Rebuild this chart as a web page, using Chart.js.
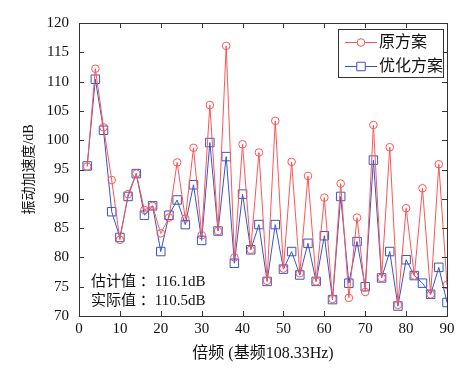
<!DOCTYPE html>
<html>
<head>
<meta charset="utf-8">
<script src="https://cdn.jsdelivr.net/npm/chart.js@4.4.1/dist/chart.umd.min.js"></script>
<style>
  html, body { margin: 0; padding: 0; background: #ffffff; }
  #wrap { width: 474px; height: 369px; position: relative; }
</style>
</head>
<body>
<div id="wrap"><canvas id="c" width="474" height="369"></canvas></div>
<script>
// ---- data ----
const harmonics = [2,4,6,8,10,12,14,16,18,20,22,24,26,28,30,32,34,36,38,40,42,44,46,48,50,52,54,56,58,60,62,64,66,68,70,72,74,76,78,80,82,84,86,88,90];
const originalValues = [95.5,112.2,102.2,93.2,83.0,90.8,94.3,88.1,88.8,84.1,86.8,96.2,86.6,98.7,83.8,106.0,84.5,116.1,80.0,99.3,81.3,97.9,76.0,103.3,78.1,96.3,77.3,93.9,75.9,90.2,72.9,92.6,73.1,86.8,74.1,102.6,76.5,98.8,71.9,88.4,76.9,91.8,73.7,95.9,75.3];
const optimizedValues = [95.6,110.4,101.7,87.8,83.4,90.4,94.3,87.2,88.8,81.0,87.2,89.8,85.6,92.4,82.9,99.6,84.5,97.2,79.0,90.8,81.3,85.6,75.9,85.6,78.0,81.0,77.0,82.4,75.9,83.7,72.8,90.4,75.6,82.7,75.0,96.6,76.5,81.0,71.7,79.6,76.9,75.6,73.7,78.3,72.3];
const seriesNames = ["原方案", "优化方案"];
const xTicks = [0,10,20,30,40,50,60,70,80,90];
const yTicks = [70,75,80,85,90,95,100,105,110,115,120];
const xTitle = "倍频 (基频108.33Hz)";
const yTitle = "振动加速度/dB";
const noteLines = ["估计值 ：116.1dB", "实际值 ：110.5dB"];

const FONT = "'Liberation Serif', 'Noto Sans CJK SC', serif";
const RED = "rgb(255,85,85)";
const BLUE = "rgb(55,85,200)";
const AXIS = "#333333";

const toPts = (vals) => vals.map((v, i) => ({ x: harmonics[i], y: v }));

// frame + inward ticks on all four sides
const framePlugin = {
  id: 'frame',
  afterDraw(chart) {
    const { ctx, chartArea: a, scales } = chart;
    ctx.save();
    ctx.strokeStyle = AXIS;
    ctx.lineWidth = 1;
    ctx.strokeRect(Math.round(a.left) + 0.5, Math.round(a.top) + 0.5, Math.round(a.right - a.left), Math.round(a.bottom - a.top));
    const L = 5;
    ctx.beginPath();
    scales.x.ticks.forEach(t => {
      const px = Math.round(scales.x.getPixelForValue(t.value)) + 0.5;
      ctx.moveTo(px, a.bottom); ctx.lineTo(px, a.bottom - L);
      ctx.moveTo(px, a.top); ctx.lineTo(px, a.top + L);
    });
    scales.y.ticks.forEach(t => {
      const py = Math.round(scales.y.getPixelForValue(t.value)) + 0.5;
      ctx.moveTo(a.left, py); ctx.lineTo(a.left + L, py);
      ctx.moveTo(a.right, py); ctx.lineTo(a.right - L, py);
    });
    ctx.stroke();
    ctx.restore();
  }
};

// MATLAB-style legend box and annotation text
const legendPlugin = {
  id: 'boxLegend',
  afterDraw(chart) {
    const { ctx } = chart;
    const bx = 338.5, by = 29.5, bw = 105, bh = 48;
    ctx.save();
    ctx.fillStyle = '#ffffff';
    ctx.fillRect(bx, by, bw, bh);
    ctx.strokeStyle = AXIS;
    ctx.lineWidth = 1;
    ctx.strokeRect(bx, by, bw, bh);
    const rows = [42, 66];
    chart.data.datasets.forEach((ds, i) => {
      const y = rows[i];
      ctx.strokeStyle = ds.borderColor;
      ctx.lineWidth = 1;
      ctx.beginPath();
      ctx.moveTo(345, y + 0.5); ctx.lineTo(377, y + 0.5);
      ctx.stroke();
      ctx.fillStyle = '#ffffff';
      ctx.strokeStyle = ds.borderColor;
      Chart.helpers.drawPoint(ctx, {
        pointStyle: ds.pointStyle, radius: ds.pointRadius, borderWidth: 1, rotation: 0
      }, 361, y + 0.5);
      ctx.fillStyle = '#111111';
      ctx.font = "16px " + FONT;
      ctx.textAlign = 'left';
      ctx.textBaseline = 'middle';
      ctx.fillText(ds.label, 379, y + 1);
    });
    ctx.fillStyle = '#111111';
    ctx.font = "15px " + FONT;
    ctx.textAlign = 'left';
    ctx.textBaseline = 'middle';
    noteLines.forEach((t, i) => ctx.fillText(t, 91, 282 + i * 19));
    ctx.restore();
  }
};

new Chart(document.getElementById('c'), {
  type: 'line',
  data: {
    datasets: [
      {
        label: seriesNames[0],
        data: toPts(originalValues),
        borderColor: RED,
        backgroundColor: 'rgba(0,0,0,0)',
        borderWidth: 1,
        pointStyle: 'circle',
        pointRadius: 3.8,
        pointBorderColor: RED,
        pointBackgroundColor: 'rgba(0,0,0,0)',
        pointBorderWidth: 1,
        tension: 0
      },
      {
        label: seriesNames[1],
        data: toPts(optimizedValues),
        borderColor: BLUE,
        backgroundColor: 'rgba(0,0,0,0)',
        borderWidth: 1,
        pointStyle: 'rect',
        pointRadius: 6,
        pointBorderColor: BLUE,
        pointBackgroundColor: 'rgba(0,0,0,0)',
        pointBorderWidth: 1,
        tension: 0
      }
    ]
  },
  options: {
    responsive: false,
    animation: false,
    devicePixelRatio: 1,
    layout: { padding: { left: 0, right: 27, top: 23, bottom: 0 } },
    plugins: {
      legend: { display: false },
      tooltip: { enabled: false }
    },
    scales: {
      x: {
        type: 'linear',
        min: 0, max: 90,
        afterBuildTicks: (s) => { s.ticks = xTicks.map(v => ({ value: v })); },
        afterFit: (s) => { s.height = 53; },
        grid: { display: false, drawTicks: false },
        border: { display: false },
        ticks: { color: '#111111', font: { family: FONT, size: 15 }, padding: 4, maxRotation: 0, autoSkip: false },
        title: { display: true, text: xTitle, color: '#111111', font: { family: FONT, size: 16 }, padding: { top: 0, bottom: 6 } }
      },
      y: {
        type: 'linear',
        min: 70, max: 120,
        afterBuildTicks: (s) => { s.ticks = yTicks.map(v => ({ value: v })); },
        afterFit: (s) => { s.width = 79; },
        grid: { display: false, drawTicks: false },
        border: { display: false },
        ticks: { color: '#111111', font: { family: FONT, size: 15 }, padding: 10, autoSkip: false },
        title: { display: true, text: yTitle, color: '#111111', font: { family: FONT, size: 14 }, padding: { top: 21, bottom: 0 } }
      }
    }
  },
  plugins: [framePlugin, legendPlugin]
});
</script>
</body>
</html>
